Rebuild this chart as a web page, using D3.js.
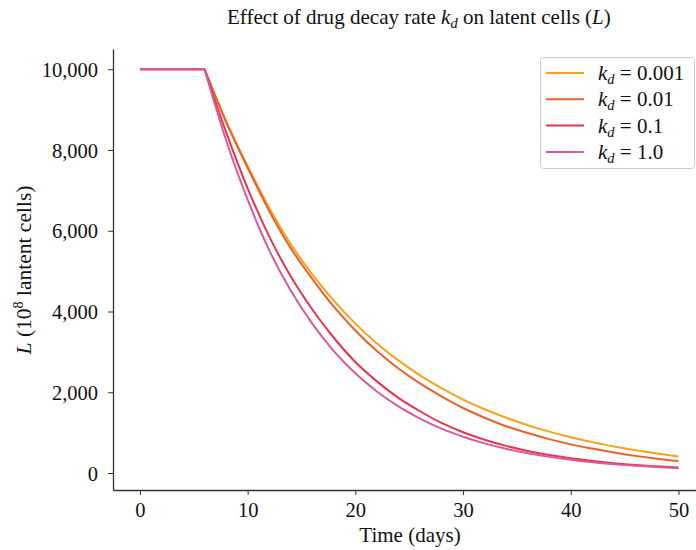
<!DOCTYPE html>
<html>
<head>
<meta charset="utf-8">
<script src="https://cdn.jsdelivr.net/npm/d3@7"></script>
<style>
  html, body { margin: 0; padding: 0; background: #fff; }
  svg { display: block; }
  text { font-family: "Liberation Serif", "DejaVu Serif", serif; fill: #111; }
</style>
</head>
<body>
<svg id="chart" width="696" height="550"></svg>
<script>
// ---- data ----
const times = [0, 6, 8, 10, 12, 14, 16, 18, 20, 22, 24, 26, 28, 30, 32, 34, 36, 38, 40, 42, 44, 46, 48, 50];
const seriesLabels = ["0.001", "0.01", "0.1", "1.0"];
const kd0001 = [10000, 10000, 8720, 7600, 6570, 5670, 4920, 4270, 3700, 3210, 2790, 2420, 2100, 1820, 1580, 1370, 1185, 1025, 885, 765, 655, 562, 482, 412];
const kd001  = [10000, 10000, 8690, 7560, 6490, 5570, 4810, 4120, 3530, 3020, 2590, 2220, 1900, 1610, 1370, 1160, 990, 840, 710, 605, 510, 425, 355, 296];
const kd01   = [10000, 10000, 8440, 7050, 5860, 4870, 4050, 3350, 2750, 2270, 1860, 1530, 1240, 1010, 825, 672, 547, 446, 365, 299, 245, 200, 166, 137];
const kd1    = [10000, 10000, 8240, 6770, 5520, 4520, 3700, 3020, 2470, 2020, 1650, 1350, 1100, 900, 734, 600, 490, 400, 327, 268, 220, 180, 147, 120];
const xTicks = [0, 10, 20, 30, 40, 50];
const yTicks = [0, 2000, 4000, 6000, 8000, 10000];
const colors = ["#f6a21b", "#e9622b", "#e8344e", "#d65c9e"];

const allSeries = [kd0001, kd001, kd01, kd1];

const svg = d3.select("#chart");

const x = d3.scaleLinear().domain([-2.5, 52.5]).range([113, 705.4]);
const y = d3.scaleLinear().domain([-420, 10500]).range([490, 49]);

// axes
const xAxis = d3.axisBottom(x).tickValues(xTicks).tickSizeInner(5).tickSizeOuter(0).tickPadding(7).tickFormat(d3.format("d"));
const yAxis = d3.axisLeft(y).tickValues(yTicks).tickSizeInner(5).tickSizeOuter(0).tickPadding(10).tickFormat(d3.format(","));

const gx = svg.append("g").attr("transform", `translate(0,${y(-420)})`).call(xAxis);
const gy = svg.append("g").attr("transform", `translate(${x(-2.5)},0)`).call(yAxis);
[gx, gy].forEach(g => {
  g.select(".domain").attr("stroke", "#333").attr("stroke-width", 1.3);
  g.selectAll(".tick line").attr("stroke", "#333").attr("stroke-width", 1);
  g.selectAll(".tick text").attr("font-family", "Liberation Serif").attr("font-size", 20.5).attr("fill", "#111");
});
gy.selectAll(".tick text").attr("dy", "0.35em");

// lines: flat segment linear, decay segment smooth
const lineLin = d3.line().x(d => x(d[0])).y(d => y(d[1]));
const lineSmooth = d3.line().x(d => x(d[0])).y(d => y(d[1])).curve(d3.curveMonotoneX);

const plot = svg.append("g");
allSeries.forEach((vals, i) => {
  const pts = times.map((t, j) => [t, vals[j]]);
  const flat = pts.filter(p => p[0] <= 6);
  const decay = pts.filter(p => p[0] >= 6);
  const dStr = lineLin(flat) + lineSmooth(decay).replace(/^M[^LC]*/, "");
  plot.append("path")
    .attr("d", dStr)
    .attr("fill", "none")
    .attr("stroke", colors[i])
    .attr("stroke-width", 2)
    .attr("stroke-linejoin", "round");
});

// title
const title = svg.append("text")
  .attr("x", 227).attr("y", 24)
  .attr("text-anchor", "start")
  .attr("font-size", 21);
title.append("tspan").text("Effect of drug decay rate ");
title.append("tspan").attr("font-style", "italic").text("k");
title.append("tspan").attr("font-style", "italic").attr("font-size", 14.5).attr("dy", 4).text("d");
title.append("tspan").attr("dy", -4).text(" on latent cells (");
title.append("tspan").attr("font-style", "italic").text("L");
title.append("tspan").text(")");
// fit title to the reference extent (227 .. 611)
{
  const w = title.node().getBBox().width;
  const fs = 21 * 384 / w;
  title.attr("font-size", fs);
  title.selectAll("tspan").filter(function(){ return this.getAttribute("font-size"); })
    .attr("font-size", fs * 0.69);
}

// x label
svg.append("text")
  .attr("x", 410).attr("y", 542)
  .attr("text-anchor", "middle")
  .attr("font-size", 21)
  .text("Time (days)");

// y label
const yl = svg.append("text")
  .attr("transform", "translate(31,270) rotate(-90)")
  .attr("text-anchor", "middle")
  .attr("font-size", 21.5);
yl.append("tspan").attr("font-style", "italic").text("L");
yl.append("tspan").text(" (10");
yl.append("tspan").attr("font-size", 14).attr("dy", -8).text("8");
yl.append("tspan").attr("dy", 8).text(" lantent cells)");

// legend
const lg = svg.append("g");
lg.append("rect")
  .attr("x", 540.5).attr("y", 57.5)
  .attr("width", 154).attr("height", 111)
  .attr("rx", 3)
  .attr("fill", "#fff").attr("fill-opacity", 0.85)
  .attr("stroke", "#ccc").attr("stroke-width", 1);
seriesLabels.forEach((lab, i) => {
  const yy = 73 + i * 26.3;
  lg.append("line")
    .attr("x1", 546).attr("x2", 584)
    .attr("y1", yy).attr("y2", yy)
    .attr("stroke", colors[i]).attr("stroke-width", 2);
  const t = lg.append("text")
    .attr("x", 598).attr("y", yy + 7)
    .attr("font-size", 21);
  t.append("tspan").attr("font-style", "italic").text("k");
  t.append("tspan").attr("font-style", "italic").attr("font-size", 14.5).attr("dy", 4).text("d");
  t.append("tspan").attr("dy", -4).text(" = " + lab);
});
</script>
</body>
</html>
